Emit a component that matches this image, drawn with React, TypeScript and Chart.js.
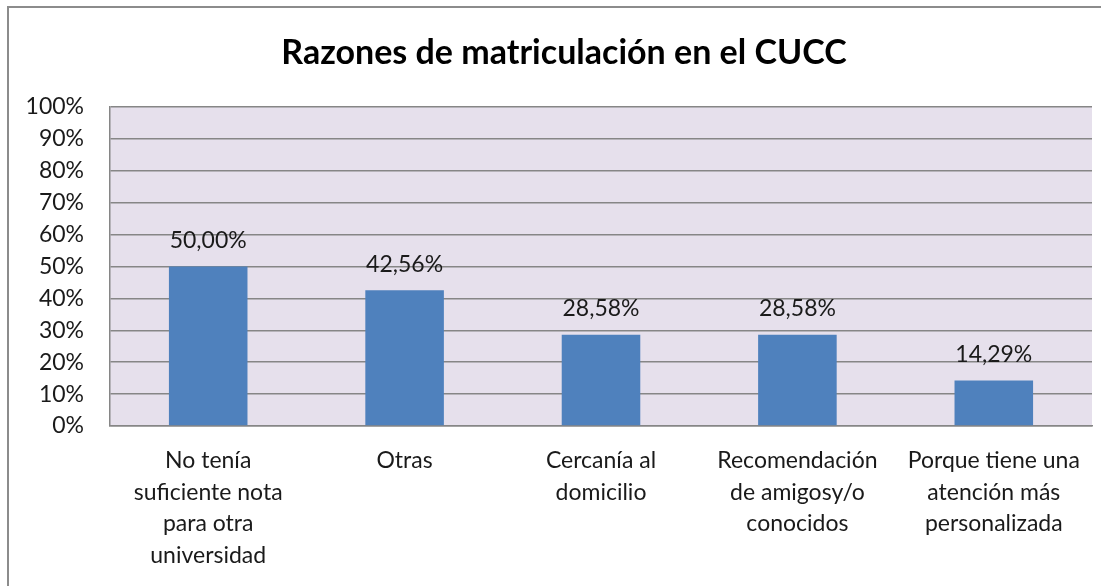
import React, { useEffect, useRef } from "react";
import { Chart, registerables } from "chart.js";

Chart.register(...registerables);

const TITLE = "Razones de matriculación en el CUCC";
const categories: string[][] = [
  ["No tenía", "suficiente nota", "para otra", "universidad"],
  ["Otras"],
  ["Cercanía al", "domicilio"],
  ["Recomendación", "de amigosy/o", "conocidos"],
  ["Porque tiene una", "atención más", "personalizada"],
];
const values: number[] = [50.0, 42.56, 28.58, 28.58, 14.29];
const yTicks: number[] = [0, 10, 20, 30, 40, 50, 60, 70, 80, 90, 100];

const FONT = "Lato, 'Open Sans', sans-serif";
const GRID = "#868686";

const decor = {
  id: "decor",
  beforeDraw(chart: any) {
    const { ctx, chartArea } = chart;
    ctx.save();
    ctx.fillStyle = "#ffffff";
    ctx.fillRect(0, 0, chart.width, chart.height);
    ctx.fillStyle = "#E6E0EC";
    ctx.fillRect(chartArea.left, chartArea.top, chartArea.right - chartArea.left, chartArea.bottom - chartArea.top);
    // outer border
    ctx.strokeStyle = "#8c8c8c";
    ctx.lineWidth = 2;
    ctx.beginPath();
    ctx.moveTo(8, 600);
    ctx.lineTo(8, 7);
    ctx.lineTo(1101, 7);
    ctx.stroke();
    ctx.restore();
  },
  afterDraw(chart: any) {
    const { ctx } = chart;
    ctx.save();
    ctx.fillStyle = "#000";
    ctx.font = `bold 34px ${FONT}`;
    ctx.textAlign = "center";
    ctx.textBaseline = "middle";
    ctx.fillText(TITLE, 564, 53);
    // data labels
    const meta = chart.getDatasetMeta(0);
    ctx.font = `23px ${FONT}`;
    ctx.fillStyle = "#1a1a1a";
    meta.data.forEach((bar: any, i: number) => {
      const label = values[i].toFixed(2).replace(".", ",") + "%";
      ctx.fillText(label, bar.x, bar.y - 26);
    });
    ctx.restore();
  },
};

export default function App() {
  const ref = useRef<HTMLCanvasElement>(null);
  useEffect(() => {
    if (!ref.current) return;
    const chart = new Chart(ref.current, {
      type: "bar",
      data: {
        labels: categories,
        datasets: [
          {
            data: values,
            backgroundColor: "#4F81BD",
            borderWidth: 0,
            barPercentage: 0.4,
            categoryPercentage: 1,
          },
        ],
      },
      options: {
        animation: false,
        responsive: false,
        devicePixelRatio: 1,
        layout: { padding: { left: 0, right: 15, top: 107, bottom: 0 } },
        plugins: { legend: { display: false }, title: { display: false }, tooltip: { enabled: false } },
        scales: {
          x: {
            afterFit: (s: any) => {
              s.height = 160;
            },
            grid: { display: false, drawTicks: false },
            border: { display: true, color: GRID, width: 1.5 },
            ticks: {
              color: "#1a1a1a",
              font: { family: FONT, size: 23, lineHeight: 1.37 },
              padding: 19,
              maxRotation: 0,
              autoSkip: false,
            },
          },
          y: {
            min: 0,
            max: 100,
            afterFit: (s: any) => {
              s.width = 110;
            },
            afterBuildTicks: (s: any) => {
              s.ticks = yTicks.map((v) => ({ value: v }));
            },
            grid: { color: GRID, lineWidth: 1.5, drawTicks: false },
            border: { display: true, color: GRID, width: 1.5 },
            ticks: {
              color: "#1a1a1a",
              font: { family: FONT, size: 23 },
              padding: 26,
              callback: (v: any) => v + "%",
            },
          },
        },
      },
      plugins: [decor],
    });
    return () => chart.destroy();
  }, []);
  return (
    <div style={{ position: "absolute", left: 0, top: 0, width: 1107, height: 586 }}>
      <canvas ref={ref} width={1107} height={586} style={{ width: 1107, height: 586 }} />
    </div>
  );
}
